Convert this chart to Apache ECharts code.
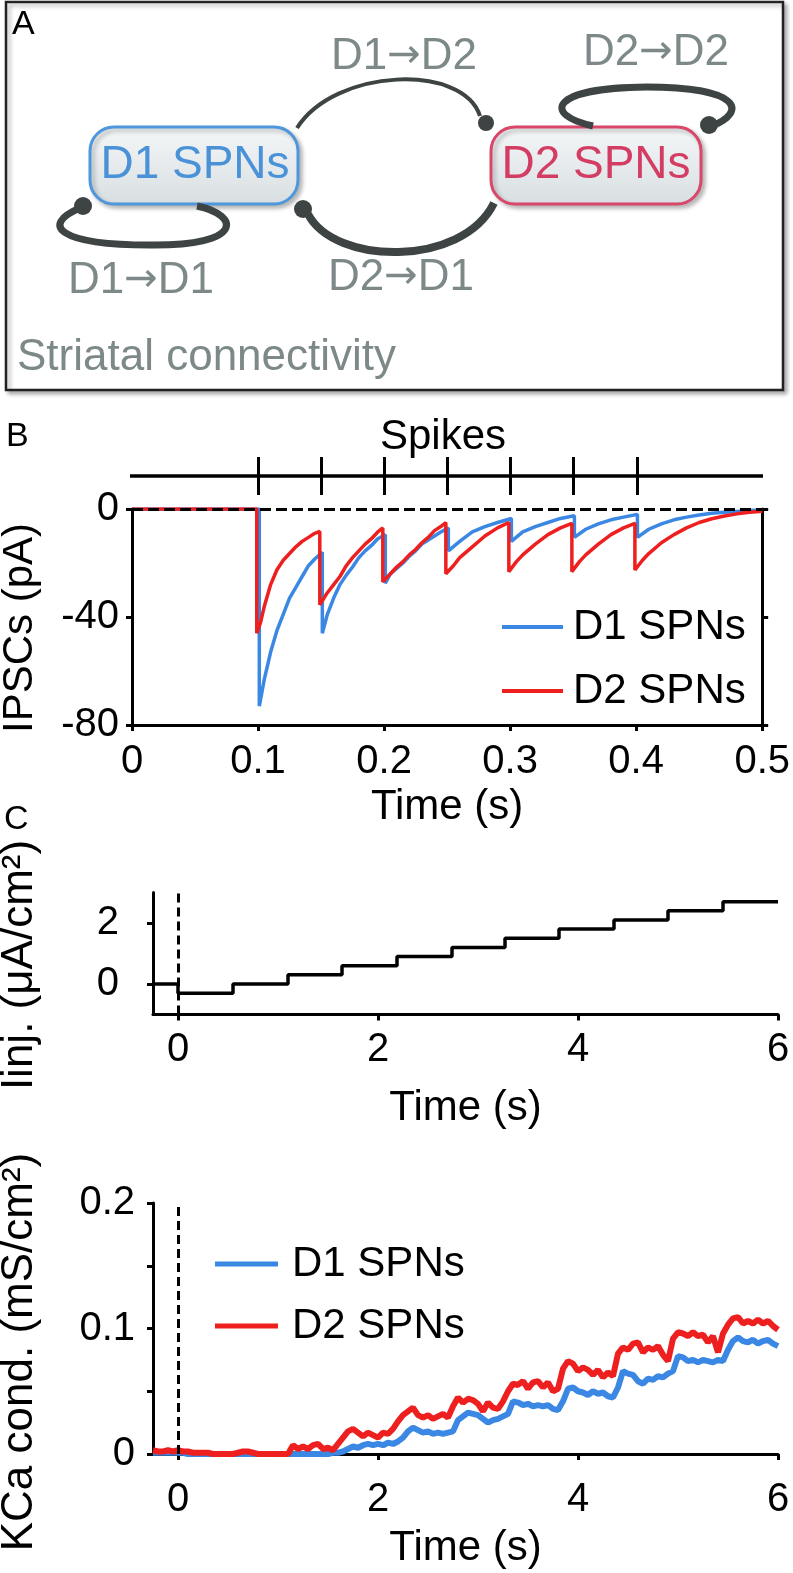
<!doctype html>
<html>
<head>
<meta charset="utf-8">
<title>Striatal connectivity</title>
<script src="https://cdn.jsdelivr.net/npm/echarts@6/dist/echarts.min.js"></script>
<style>
  html, body { margin: 0; padding: 0; background: #fff; }
  #chart { width: 793px; height: 1573px; }
</style>
</head>
<body>
<div id="chart"></div>
<script>
// ---- data ----
const spikeTimes = [0.1, 0.15, 0.2, 0.25, 0.3, 0.35, 0.4];

// IPSCs (pA), [time s, current]
const ipscD1 = [
  [0, 0], [0.101, 0], [0.101, -73], [0.105, -63], [0.11, -53], [0.115, -45], [0.12, -39], [0.125, -33], [0.13, -29], [0.135, -25], [0.14, -21], [0.145, -18.5], [0.151, -16],
  [0.151, -46], [0.155, -39], [0.16, -33], [0.165, -28], [0.17, -24.5], [0.175, -21.5], [0.18, -18], [0.185, -15.5], [0.19, -13.5], [0.195, -11], [0.201, -9.5],
  [0.201, -27.5], [0.205, -24], [0.21, -22], [0.215, -20], [0.22, -17.5], [0.225, -15.5], [0.23, -13], [0.235, -11.5], [0.24, -10], [0.245, -8.5], [0.251, -7],
  [0.251, -15.5], [0.26, -12], [0.27, -8.5], [0.28, -6.5], [0.29, -5], [0.301, -3.5],
  [0.301, -12], [0.31, -8.5], [0.32, -6.5], [0.33, -5], [0.34, -3.5], [0.351, -2.5],
  [0.351, -10.5], [0.36, -7.5], [0.37, -5.5], [0.38, -4], [0.39, -3], [0.401, -2],
  [0.401, -10.5], [0.41, -7.5], [0.42, -5.5], [0.43, -4], [0.44, -3], [0.45, -2.2], [0.46, -1.6], [0.47, -1.2], [0.48, -0.9], [0.49, -0.6], [0.5, -0.4]
];
const ipscD2 = [
  [0, 0], [0.099, 0], [0.099, -46], [0.102, -42], [0.105, -36], [0.11, -28], [0.115, -22.5], [0.12, -19], [0.125, -16.5], [0.13, -14], [0.135, -12], [0.14, -10.5], [0.145, -9], [0.149, -8.3],
  [0.149, -35.5], [0.155, -31], [0.16, -28], [0.165, -25], [0.17, -21], [0.175, -18], [0.18, -15.5], [0.185, -13], [0.19, -11], [0.195, -8.5], [0.199, -7],
  [0.199, -27], [0.205, -24], [0.21, -21.5], [0.215, -19.5], [0.22, -17], [0.225, -15], [0.23, -12.5], [0.235, -10.5], [0.24, -8], [0.245, -6.5], [0.249, -5],
  [0.249, -24], [0.255, -21], [0.26, -18], [0.27, -14], [0.28, -10], [0.29, -7], [0.299, -5],
  [0.299, -23.2], [0.305, -19.5], [0.31, -17], [0.32, -13], [0.33, -9.5], [0.34, -7], [0.349, -5.3],
  [0.349, -23.2], [0.355, -19.5], [0.36, -17], [0.37, -13], [0.38, -9.5], [0.39, -7], [0.399, -5.3],
  [0.399, -22.6], [0.405, -19], [0.41, -16.5], [0.42, -12.5], [0.43, -9.5], [0.44, -7], [0.45, -5], [0.46, -3.6], [0.47, -2.6], [0.48, -1.8], [0.49, -1.2], [0.5, -0.8]
];

// injected current steps (uA/cm2)
const iinjTime  = [-0.25, 0, 0.55, 1.1, 1.64, 2.19, 2.74, 3.27, 3.81, 4.36, 4.9, 5.45, 6];
const iinjValue = [0, -0.3, 0, 0.3, 0.6, 0.9, 1.2, 1.5, 1.8, 2.1, 2.4, 2.7, 2.7];

// KCa conductance (mS/cm2), sampled every 0.05 s from -0.25 s
const kcaStart = -0.25;
const kcaStep = 0.05;
const kcaD1 = [
  0.001, 0.001, 0.001, 0.001, 0.001,
  0.001, 0.001, 0, 0, 0, 0, 0, 0, 0, 0,
  0, 0, 0, 0, 0, 0, 0, 0, 0, 0,
  0, 0, 0, 0, 0, 0, 0, 0, 0, 0,
  0, 0.001, 0.001, 0.002, 0.004, 0.006, 0.005, 0.007, 0.008, 0.007,
  0.008, 0.007, 0.009, 0.008, 0.010, 0.013, 0.018, 0.021, 0.019, 0.017,
  0.018, 0.016, 0.017, 0.016, 0.017, 0.018, 0.027, 0.030, 0.033, 0.032,
  0.031, 0.028, 0.025, 0.027, 0.028, 0.030, 0.032, 0.042, 0.041, 0.039,
  0.040, 0.038, 0.039, 0.038, 0.039, 0.036, 0.035, 0.042, 0.052, 0.053,
  0.050, 0.049, 0.047, 0.050, 0.048, 0.049, 0.046, 0.045, 0.053, 0.066,
  0.064, 0.063, 0.058, 0.056, 0.060, 0.059, 0.062, 0.061, 0.064, 0.066,
  0.078, 0.077, 0.074, 0.075, 0.073, 0.075, 0.074, 0.073, 0.075, 0.074,
  0.083, 0.090, 0.093, 0.090, 0.089, 0.091, 0.088, 0.090, 0.091, 0.088,
  0.086
];
const kcaD2 = [
  0.003, 0.002, 0.002, 0.003, 0.002,
  0.003, 0.002, 0.002, 0.001, 0.001, 0.001, 0.001, 0, 0, 0,
  0, 0, 0.001, 0.002, 0.002, 0.001, 0, 0, 0, 0,
  0, 0, 0, 0.007, 0.004, 0.006, 0.004, 0.007, 0.008, 0.004,
  0.005, 0.003, 0.008, 0.013, 0.018, 0.020, 0.017, 0.014, 0.017, 0.015,
  0.013, 0.017, 0.016, 0.020, 0.026, 0.031, 0.034, 0.037, 0.031, 0.029,
  0.031, 0.028, 0.030, 0.032, 0.029, 0.038, 0.045, 0.041, 0.044, 0.043,
  0.040, 0.034, 0.041, 0.037, 0.036, 0.042, 0.050, 0.056, 0.055, 0.058,
  0.052, 0.057, 0.058, 0.053, 0.057, 0.050, 0.052, 0.068, 0.074, 0.072,
  0.066, 0.069, 0.067, 0.063, 0.067, 0.061, 0.065, 0.062, 0.080, 0.085,
  0.083, 0.088, 0.089, 0.081, 0.085, 0.083, 0.086, 0.079, 0.074, 0.092,
  0.097, 0.096, 0.094, 0.097, 0.094, 0.095, 0.089, 0.094, 0.081, 0.096,
  0.103, 0.108, 0.109, 0.104, 0.106, 0.104, 0.107, 0.104, 0.106, 0.102,
  0.099
];

// ---- styles ----
const FONT = 'Liberation Sans, Arial, Helvetica, sans-serif';
const BLUE = '#3b87e4';
const RED = '#ee1f1f';
const GREY = '#7d8888';
const LINK = '#3e4343';

const chart = echarts.init(document.getElementById('chart'), null, { renderer: 'canvas' });

function valueAxis(extra) {
  return Object.assign({
    type: 'value',
    axisLine: { show: true, onZero: false, lineStyle: { color: '#000', width: 3 } },
    axisTick: { show: true, inside: false, length: 6, lineStyle: { color: '#000', width: 3 } },
    axisLabel: { color: '#000', fontSize: 40, fontFamily: FONT },
    splitLine: { show: false },
    nameLocation: 'middle',
    nameTextStyle: { color: '#000', fontSize: 42, fontFamily: FONT }
  }, extra);
}

function txt(text, x, y, size, color, align, rotation) {
  return {
    type: 'text', x: x, y: y, silent: true, rotation: rotation || 0,
    style: { text: text, fill: color, fontSize: size, fontFamily: FONT,
      align: align || 'center', verticalAlign: 'middle' }
  };
}

// "D1 -> D2" style labels, arrow drawn with DejaVu for a long thin arrow
function linkLabel(from, to, x, y) {
  return {
    type: 'text', x: x, y: y, silent: true,
    style: {
      text: '{a|' + from + '}{b|\u2192}{a|' + to + '}',
      align: 'center', verticalAlign: 'middle',
      rich: {
        a: { fontSize: 44, fontFamily: FONT, fill: GREY, color: GREY },
        b: { fontSize: 40, fontFamily: 'DejaVu Sans, ' + FONT, fill: GREY, color: GREY }
      }
    }
  };
}

function curve(shape, width) {
  return { type: 'bezierCurve', silent: true, shape: shape,
    style: { stroke: LINK, lineWidth: width, fill: null, lineCap: 'butt' } };
}

function dot(x, y, r) {
  return { type: 'circle', silent: true, shape: { cx: x, cy: y, r: r }, style: { fill: LINK } };
}

function cellBox(x, w, color) {
  return {
    type: 'rect', silent: true,
    shape: { x: x, y: 127, width: w, height: 77, r: 24 },
    style: {
      fill: new echarts.graphic.LinearGradient(0, 0, 0, 1, [
        { offset: 0, color: '#f5f7f8' }, { offset: 1, color: '#d8dee1' }
      ]),
      stroke: color, lineWidth: 3,
      shadowColor: 'rgba(0,0,0,0.25)', shadowBlur: 4, shadowOffsetX: 3, shadowOffsetY: 3
    }
  };
}

// panel A diagram + free text labels
const graphics = [
  { type: 'rect', silent: true, shape: { x: 6, y: 2, width: 777, height: 388 },
    style: { fill: '#fff', stroke: '#222', lineWidth: 2.5,
      shadowColor: 'rgba(0,0,0,0.3)', shadowBlur: 4, shadowOffsetX: 3, shadowOffsetY: 3 } },
  txt('A', 12, 25, 34, '#000', 'left'),
  cellBox(90, 208, '#4f97dc'),
  cellBox(491, 210, '#d9476a'),
  txt('D1 SPNs', 195, 165, 46, '#4a92d8'),
  txt('D2 SPNs', 596, 165, 46, '#d43d63'),
  // D1 -> D2
  curve({ x1: 297, y1: 128, cpx1: 335, cpy1: 68, cpx2: 463, cpy2: 63, x2: 480, y2: 116 }, 4),
  dot(486, 123, 8),
  // D2 -> D1
  curve({ x1: 494, y1: 203, cpx1: 462, cpy1: 268, cpx2: 334, cpy2: 265, x2: 308, y2: 214 }, 8),
  dot(303, 209, 9),
  // D1 -> D1
  curve({ x1: 197, y1: 206, cpx1: 240, cpy1: 215, cpx2: 245, cpy2: 246, x2: 150, y2: 245 }, 7),
  curve({ x1: 150, y1: 245, cpx1: 58, cpy1: 245, cpx2: 40, cpy2: 225, x2: 80, y2: 208 }, 7),
  dot(83, 206, 9),
  // D2 -> D2
  curve({ x1: 593, y1: 126, cpx1: 543, cpy1: 115, cpx2: 548, cpy2: 88, x2: 646, y2: 87 }, 7),
  curve({ x1: 646, y1: 87, cpx1: 742, cpy1: 87, cpx2: 747, cpy2: 112, x2: 712, y2: 126 }, 7),
  dot(709, 125, 9),
  linkLabel('D1', 'D2', 404, 57),
  linkLabel('D2', 'D2', 656, 53),
  linkLabel('D1', 'D1', 141, 281),
  linkLabel('D2', 'D1', 401, 278),
  txt('Striatal connectivity', 17, 358, 44, GREY, 'left'),
  txt('B', 6, 437, 34, '#000', 'left'),
  txt('Spikes', 443, 437, 42, '#000'),
  txt('C', 4, 820, 34, '#000', 'left'),
  txt('IPSCs (pA)', 20, 628, 42, '#000', 'center', Math.PI / 2),
  txt('Iinj. (\u03bcA/cm\u00b2)', 20, 965, 44, '#000', 'center', Math.PI / 2),
  txt('KCa cond. (mS/cm\u00b2)', 20, 1352, 44, '#000', 'center', Math.PI / 2)
];

const option = {
  animation: false,
  backgroundColor: '#fff',
  textStyle: { fontFamily: FONT },
  graphic: { elements: graphics },
  grid: [
    { left: 132, top: 457, width: 631, height: 38 },   // spike raster
    { left: 132, top: 509, width: 631, height: 216 },  // IPSCs
    { left: 153, top: 892.5, width: 625, height: 122 }, // Iinj
    { left: 153, top: 1203, width: 625, height: 251 }   // KCa
  ],
  legend: [
    { data: ['D1 SPNs', 'D2 SPNs'], orient: 'vertical', left: 497, top: 601, itemGap: 22,
      icon: 'rect', itemWidth: 61, itemHeight: 4, selectedMode: false,
      textStyle: { fontSize: 42, color: '#000', fontFamily: FONT, padding: [0, 0, 0, 5] } },
    { data: ['D1 SPNs', 'D2 SPNs'], orient: 'vertical', left: 210, top: 1238, itemGap: 20,
      icon: 'rect', itemWidth: 63, itemHeight: 5, selectedMode: false,
      textStyle: { fontSize: 42, color: '#000', fontFamily: FONT, padding: [0, 0, 0, 9] } }
  ],
  xAxis: [
    { type: 'value', gridIndex: 0, min: 0, max: 0.5, show: false },
    valueAxis({ gridIndex: 1, min: 0, max: 0.5, interval: 0.1, name: 'Time (s)', nameGap: 61,
      axisLabel: { color: '#000', fontSize: 40, fontFamily: FONT, margin: 17 } }),
    valueAxis({ gridIndex: 2, min: -0.25, max: 6, name: 'Time (s)', nameGap: 73,
      axisTick: { show: true, length: 6, lineStyle: { color: '#000', width: 3 }, customValues: [0, 2, 4, 6] },
      axisLabel: { color: '#000', fontSize: 40, fontFamily: FONT, margin: 15, customValues: [0, 2, 4, 6] } }),
    valueAxis({ gridIndex: 3, min: -0.25, max: 6, name: 'Time (s)', nameGap: 73,
      axisTick: { show: true, length: 6, lineStyle: { color: '#000', width: 3 }, customValues: [0, 2, 4, 6] },
      axisLabel: { color: '#000', fontSize: 40, fontFamily: FONT, margin: 26, customValues: [0, 2, 4, 6] } })
  ],
  yAxis: [
    { type: 'value', gridIndex: 0, min: 0, max: 1, show: false },
    valueAxis({ gridIndex: 1, min: -80, max: 0, interval: 40,
      axisLabel: { color: '#000', fontSize: 40, fontFamily: FONT, margin: 13 } }),
    valueAxis({ gridIndex: 1, min: -80, max: 0, interval: 40, position: 'right',
      axisLabel: { show: false } }),
    valueAxis({ gridIndex: 2, min: -1, max: 3,
      axisTick: { show: true, length: 6, lineStyle: { color: '#000', width: 3 }, customValues: [0, 2] },
      axisLabel: { color: '#000', fontSize: 40, fontFamily: FONT, margin: 34, customValues: [0, 2] } }),
    valueAxis({ gridIndex: 3, min: 0, max: 0.2,
      axisTick: { show: true, length: 6, lineStyle: { color: '#000', width: 3 }, customValues: [0, 0.05, 0.1, 0.15, 0.2] },
      axisLabel: { color: '#000', fontSize: 40, fontFamily: FONT, margin: 18, customValues: [0, 0.1, 0.2] } })
  ],
  series: [
    {
      // spike raster
      type: 'line', xAxisIndex: 0, yAxisIndex: 0, clip: false, silent: true,
      data: [[-0.005, 0.5], [0.5, 0.5]], symbol: 'none',
      lineStyle: { color: '#000', width: 3.5 },
      markLine: {
        silent: true, symbol: ['none', 'none'], label: { show: false },
        lineStyle: { color: '#000', type: 'solid', width: 3 },
        data: spikeTimes.map(t => ({ xAxis: t }))
      }
    },
    {
      name: 'D1 SPNs', type: 'line', xAxisIndex: 1, yAxisIndex: 1, data: ipscD1,
      symbol: 'none', lineStyle: { color: BLUE, width: 3.5 }, itemStyle: { color: BLUE }
    },
    {
      name: 'D2 SPNs', type: 'line', xAxisIndex: 1, yAxisIndex: 1, data: ipscD2,
      symbol: 'none', lineStyle: { color: RED, width: 3.5 }, itemStyle: { color: RED },
      markLine: {
        silent: true, symbol: ['none', 'none'], label: { show: false },
        lineStyle: { color: '#000', type: [11, 5], width: 3 },
        data: [{ yAxis: 0 }]
      }
    },
    {
      type: 'line', step: 'end', xAxisIndex: 2, yAxisIndex: 3,
      data: iinjTime.map((t, i) => [t, iinjValue[i]]),
      symbol: 'none', lineStyle: { color: '#000', width: 3.5 },
      markLine: {
        silent: true, symbol: ['none', 'none'], label: { show: false },
        lineStyle: { color: '#000', type: [9, 5], width: 3 },
        data: [{ xAxis: 0 }]
      }
    },
    {
      name: 'D1 SPNs', type: 'line', xAxisIndex: 3, yAxisIndex: 4,
      data: kcaD1.map((v, i) => [kcaStart + i * kcaStep, v]),
      symbol: 'none', lineStyle: { color: BLUE, width: 6 }, itemStyle: { color: BLUE }
    },
    {
      name: 'D2 SPNs', type: 'line', xAxisIndex: 3, yAxisIndex: 4,
      data: kcaD2.map((v, i) => [kcaStart + i * kcaStep, v]),
      symbol: 'none', lineStyle: { color: RED, width: 6 }, itemStyle: { color: RED },
      markLine: {
        silent: true, symbol: ['none', 'none'], label: { show: false },
        lineStyle: { color: '#000', type: [9, 5], width: 3 },
        data: [{ xAxis: 0 }]
      }
    }
  ]
};

chart.setOption(option);
</script>
</body>
</html>
